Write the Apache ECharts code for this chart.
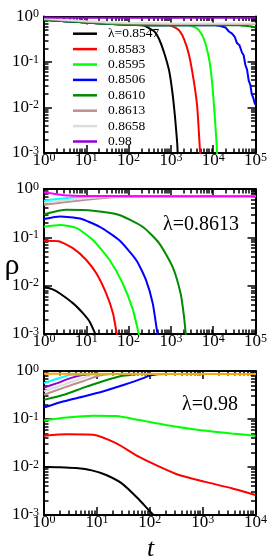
<!DOCTYPE html>
<html><head><meta charset="utf-8">
<script src="https://cdn.jsdelivr.net/npm/echarts@6/dist/echarts.min.js"></script>
<style>html,body{margin:0;padding:0;background:#fff;}#c{width:270px;height:557px;}</style>
</head><body><div id="c"></div>
<script>
// ---------- tick exponents ----------
const xExpTop = [0, 1, 2, 3, 4, 5];
const xExpBottom = [0, 1, 2, 3, 4];
const yExp = [-3, -2, -1, 0];

// ---------- legend labels (panel 1) ----------
const legendNames = ['λ=0.8547', '0.8583', '0.8595', '0.8506', '0.8610', '0.8613', '0.8658', '0.98'];
const panelLabels = ['λ=0.8613', 'λ=0.98'];

// ---------- panel 1 : rho(t) for several lambda ----------
const p1Black = [[1,0.85],[3.16,0.79],[10,0.74],[31.6,0.69],[100,0.66],[224,0.645],[309,0.55],[407,0.47],[525,0.32],[692,0.16],[912,0.063],[1096,0.020],[1259,0.0058],[1413,0.0016],[1445,0.001],[1480,0.0007]];
const p1Red = [[1,0.85],[3.16,0.79],[10,0.74],[31.6,0.69],[100,0.66],[316,0.645],[912,0.645],[1175,0.59],[1549,0.50],[2042,0.32],[2692,0.141],[3467,0.039],[4169,0.011],[4571,0.003],[4898,0.001],[5000,0.0007]];
const p1Lime = [[1,0.85],[3.16,0.79],[10,0.74],[31.6,0.69],[100,0.66],[316,0.645],[2692,0.645],[3548,0.59],[4571,0.50],[6026,0.32],[7943,0.12],[9333,0.039],[10715,0.0079],[12023,0.0016],[12303,0.001],[12600,0.0007]];
const p1Blue = [[1,0.85],[3.16,0.79],[10,0.74],[31.6,0.69],[100,0.66],[316,0.645],[11324,0.645],[14791,0.617],[19498,0.575],[23442,0.468],[27542,0.427],[32359,0.355],[36308,0.263],[41687,0.234],[47863,0.162],[52481,0.141],[57544,0.087],[63096,0.068],[69183,0.039],[75858,0.031],[81283,0.020],[89125,0.016],[97724,0.0117],[100000,0.0115]];
const p1Green = [[1,0.85],[3.16,0.79],[10,0.74],[31.6,0.69],[100,0.66],[316,0.645],[39811,0.645],[63096,0.617],[79433,0.60],[100000,0.575]];
const p1Brown = [[1,0.88],[3.16,0.82],[10,0.77],[31.6,0.72],[100,0.70],[1000,0.685],[100000,0.68]];
const p1Grey = [[1,0.9],[3.16,0.84],[10,0.79],[31.6,0.75],[100,0.72],[1000,0.705],[100000,0.70]];
const p1Violet = [[1,0.95],[10,0.94],[100000,0.94]];

// ---------- panel 2 : lambda = 0.8613, several initial densities ----------
const p2Black = [[1,0.0095],[1.66,0.0083],[2.38,0.0069],[4.9,0.0043],[8.3,0.0027],[12,0.0018],[16.2,0.00102],[17.8,0.0008]];
const p2Red = [[1,0.085],[2.19,0.083],[4.9,0.059],[10,0.034],[17.4,0.0178],[29.5,0.0069],[42.7,0.0027],[52.5,0.00102],[56,0.0008]];
const p2Lime = [[1,0.166],[2.4,0.18],[5.9,0.155],[14.5,0.087],[35.5,0.034],[72.4,0.0112],[126,0.0032],[174,0.00102],[186,0.0008]];
const p2Blue = [[1,0.24],[2.4,0.27],[7.1,0.245],[20.4,0.166],[60.3,0.087],[151,0.034],[257,0.0132],[372,0.0043],[479,0.00102],[501,0.0008]];
const p2Green = [[1,0.30],[3.4,0.37],[14.5,0.355],[60.3,0.29],[214,0.166],[525,0.076],[1096,0.0245],[1698,0.0069],[2042,0.0023],[2239,0.00102],[2291,0.0008]];
const p2Brown = [[1,0.47],[3,0.53],[10,0.60],[30,0.66],[100,0.69],[300,0.71],[100000,0.71]];
const p2Grey = [[1,0.52],[3,0.58],[10,0.64],[30,0.68],[100,0.70],[300,0.71],[100000,0.71]];
const p2Cyan = [[1,0.57],[2,0.62],[4,0.66],[8,0.69],[20,0.71],[100000,0.71]];
const p2Magenta = [[1,0.86],[2,0.78],[4,0.73],[10,0.715],[100000,0.71]];

// ---------- panel 3 : lambda = 0.98, several initial densities ----------
const p3Black = [[1,0.0100],[2,0.0099],[4,0.0095],[8,0.0085],[15,0.0068],[30,0.0045],[60,0.0022],[100,0.0012],[130,0.0009],[150,0.00075]];
const p3Red = [[1,0.045],[2.7,0.048],[8.5,0.047],[23.4,0.031],[63,0.0162],[151,0.0102],[355,0.0068],[1122,0.0049],[3548,0.0036],[10000,0.0026]];
const p3Lime = [[1,0.093],[2.7,0.107],[8.5,0.117],[23.4,0.115],[63,0.095],[200,0.075],[851,0.059],[3548,0.050],[10000,0.045]];
const p3Blue = [[1,0.174],[2.38,0.234],[5.6,0.295],[13.4,0.38],[31.7,0.51],[75.6,0.71],[98,0.81],[200,0.87],[10000,0.87]];
const p3Green = [[1,0.25],[2.38,0.32],[5.6,0.45],[13.4,0.62],[27.5,0.78],[42.7,0.83],[60,0.87],[10000,0.87]];
const p3Brown = [[1,0.32],[2.38,0.45],[5.6,0.62],[10,0.78],[13.4,0.83],[20,0.87],[10000,0.87]];
const p3Grey = [[1,0.38],[2.38,0.52],[5.6,0.72],[8.7,0.83],[12,0.87],[10000,0.87]];
const p3Violet = [[1,0.45],[1.78,0.56],[3.16,0.71],[5.6,0.83],[8,0.87],[10000,0.87]];
const p3Cyan = [[1,0.56],[1.78,0.69],[3.16,0.83],[4.9,0.85],[7,0.87],[10000,0.87]];
const p3Orange = [[1,0.88],[10000,0.87]];

// ---------- colours (xmgrace palette) ----------
const C = {black:'#000000', red:'#ff0000', lime:'#00ff00', blue:'#0000ff', green:'#008b00',
  brown:'#bc8f8f', grey:'#dcdcdc', violet:'#9400d3', cyan:'#00ffff', magenta:'#ff00ff', orange:'#ffa500'};

const FONT = '"Liberation Serif", "Times New Roman", serif';
const grids = [
  {left: 44, top: 9, width: 213, height: 144},
  {left: 44, top: 189, width: 213, height: 145},
  {left: 44, top: 371, width: 213, height: 144}
];

function majorsFrom(exps){ return exps.map(e => +Math.pow(10, e).toPrecision(6)); }
function minorsFrom(exps){
  const out = [];
  for (let i = 0; i < exps.length - 1; i++) {
    const d = Math.pow(10, exps[i]);
    for (let m = 2; m <= 9; m++) out.push(+(m * d).toPrecision(6));
  }
  return out;
}
const rich = {
  m: {fontFamily: FONT, fontSize: 17, color: '#000', lineHeight: 17, padding: [8, 0, 0, 0], verticalAlign: 'bottom'},
  s: {fontFamily: FONT, fontSize: 12, color: '#000', lineHeight: 12, verticalAlign: 'top'}
};
function fmt(v){ const e = Math.round(Math.log10(v)); return '{m|10}{s|' + e + '}'; }

const xAxes = [], yAxes = [], series = [];
const lineCol = {color: '#000', width: 2};
const tickCol = {color: '#000', width: 1.5};

function addAxes(gi, xExp, yExpArr){
  const xMaj = majorsFrom(xExp), xMin = minorsFrom(xExp);
  const yMaj = majorsFrom(yExpArr), yMin = minorsFrom(yExpArr);
  const xr = {min: xMaj[0], max: xMaj[xMaj.length - 1]};
  const yr = {min: yMaj[0], max: yMaj[yMaj.length - 1]};
  const base = {gridIndex: gi, type: 'log', logBase: 10, splitLine: {show: false}, minorTick: {show: false}, silent: true};
  const xMainIdx = xAxes.length;
  [['bottom', true, xMaj, 8, true], ['bottom', false, xMin, 4.5, false], ['top', true, xMaj, 8, false], ['top', false, xMin, 4.5, false]].forEach(([pos, line, vals, len, lab]) => {
    xAxes.push(Object.assign({}, base, xr, {
      position: pos,
      axisLine: {show: line, onZero: false, lineStyle: lineCol},
      axisTick: {show: true, inside: true, length: len, lineStyle: tickCol, customValues: vals},
      axisLabel: lab ? {show: true, customValues: vals, formatter: fmt, rich: rich, margin: -1} : {show: false}
    }));
  });
  const yMainIdx = yAxes.length;
  [['left', true, yMaj, 8, true], ['left', false, yMin, 4.5, false], ['right', true, yMaj, 8, false], ['right', false, yMin, 4.5, false]].forEach(([pos, line, vals, len, lab]) => {
    yAxes.push(Object.assign({}, base, yr, {
      position: pos,
      axisLine: {show: line, onZero: false, lineStyle: lineCol},
      axisTick: {show: true, inside: true, length: len, lineStyle: tickCol, customValues: vals},
      axisLabel: lab ? {show: true, customValues: vals, formatter: fmt, rich: rich, margin: 5} : {show: false}
    }));
  });
  return [xMainIdx, yMainIdx];
}

function addSeries(name, data, color, axes, smooth){
  series.push({
    name: name, type: 'line', data: data, xAxisIndex: axes[0], yAxisIndex: axes[1],
    showSymbol: false, symbol: 'none', smooth: smooth === undefined ? 0.2 : smooth,
    clip: true, animation: false,
    itemStyle: {color: color}, lineStyle: {color: color, width: 2}
  });
}

const a1 = addAxes(0, xExpTop, yExp);
const a2 = addAxes(1, xExpTop, yExp);
const a3 = addAxes(2, xExpBottom, yExp);

addSeries(legendNames[0], p1Black, C.black, a1);
addSeries(legendNames[1], p1Red, C.red, a1);
addSeries(legendNames[2], p1Lime, C.lime, a1);
addSeries(legendNames[3], p1Blue, C.blue, a1, false);
addSeries(legendNames[4], p1Green, C.green, a1);
addSeries(legendNames[5], p1Brown, C.brown, a1);
addSeries(legendNames[6], p1Grey, C.grey, a1);
addSeries(legendNames[7], p1Violet, C.violet, a1);

addSeries('p2-black', p2Black, C.black, a2);
addSeries('p2-red', p2Red, C.red, a2);
addSeries('p2-lime', p2Lime, C.lime, a2);
addSeries('p2-blue', p2Blue, C.blue, a2);
addSeries('p2-green', p2Green, C.green, a2);
addSeries('p2-brown', p2Brown, C.brown, a2);
addSeries('p2-grey', p2Grey, C.grey, a2);
addSeries('p2-cyan', p2Cyan, C.cyan, a2);
addSeries('p2-magenta', p2Magenta, C.magenta, a2);

addSeries('p3-black', p3Black, C.black, a3);
addSeries('p3-red', p3Red, C.red, a3);
addSeries('p3-lime', p3Lime, C.lime, a3);
addSeries('p3-blue', p3Blue, C.blue, a3);
addSeries('p3-green', p3Green, C.green, a3);
addSeries('p3-brown', p3Brown, C.brown, a3);
addSeries('p3-grey', p3Grey, C.grey, a3);
addSeries('p3-violet', p3Violet, C.violet, a3);
addSeries('p3-cyan', p3Cyan, C.cyan, a3);
addSeries('p3-orange', p3Orange, C.orange, a3);

const chart = echarts.init(document.getElementById('c'), null, {renderer: 'canvas'});
chart.setOption({
  animation: false,
  backgroundColor: '#fff',
  grid: grids,
  xAxis: xAxes,
  yAxis: yAxes,
  legend: {
    data: legendNames, orient: 'vertical', left: 68, top: 21, itemWidth: 24, itemHeight: 2.5, itemGap: 0,
    icon: 'rect', selectedMode: false,
    textStyle: {fontFamily: FONT, fontSize: 13.5, color: '#000', lineHeight: 15.4, padding: [0, 0, 0, 6]}
  },
  graphic: [
    {type: 'text', x: 12, y: 266, style: {text: 'ρ', font: '30px "Liberation Serif"', fill: '#000', align: 'center', verticalAlign: 'middle'}},
    {type: 'text', x: 163, y: 225, style: {text: panelLabels[0], font: '20px "Liberation Serif"', fill: '#000', align: 'left', verticalAlign: 'middle'}},
    {type: 'text', x: 182, y: 405, style: {text: panelLabels[1], font: '20px "Liberation Serif"', fill: '#000', align: 'left', verticalAlign: 'middle'}},
    {type: 'text', x: 150.5, y: 549, style: {text: 't', font: 'italic 26px "Liberation Serif"', fill: '#000', align: 'center', verticalAlign: 'middle'}}
  ],
  series: series
});
</script></body></html>
